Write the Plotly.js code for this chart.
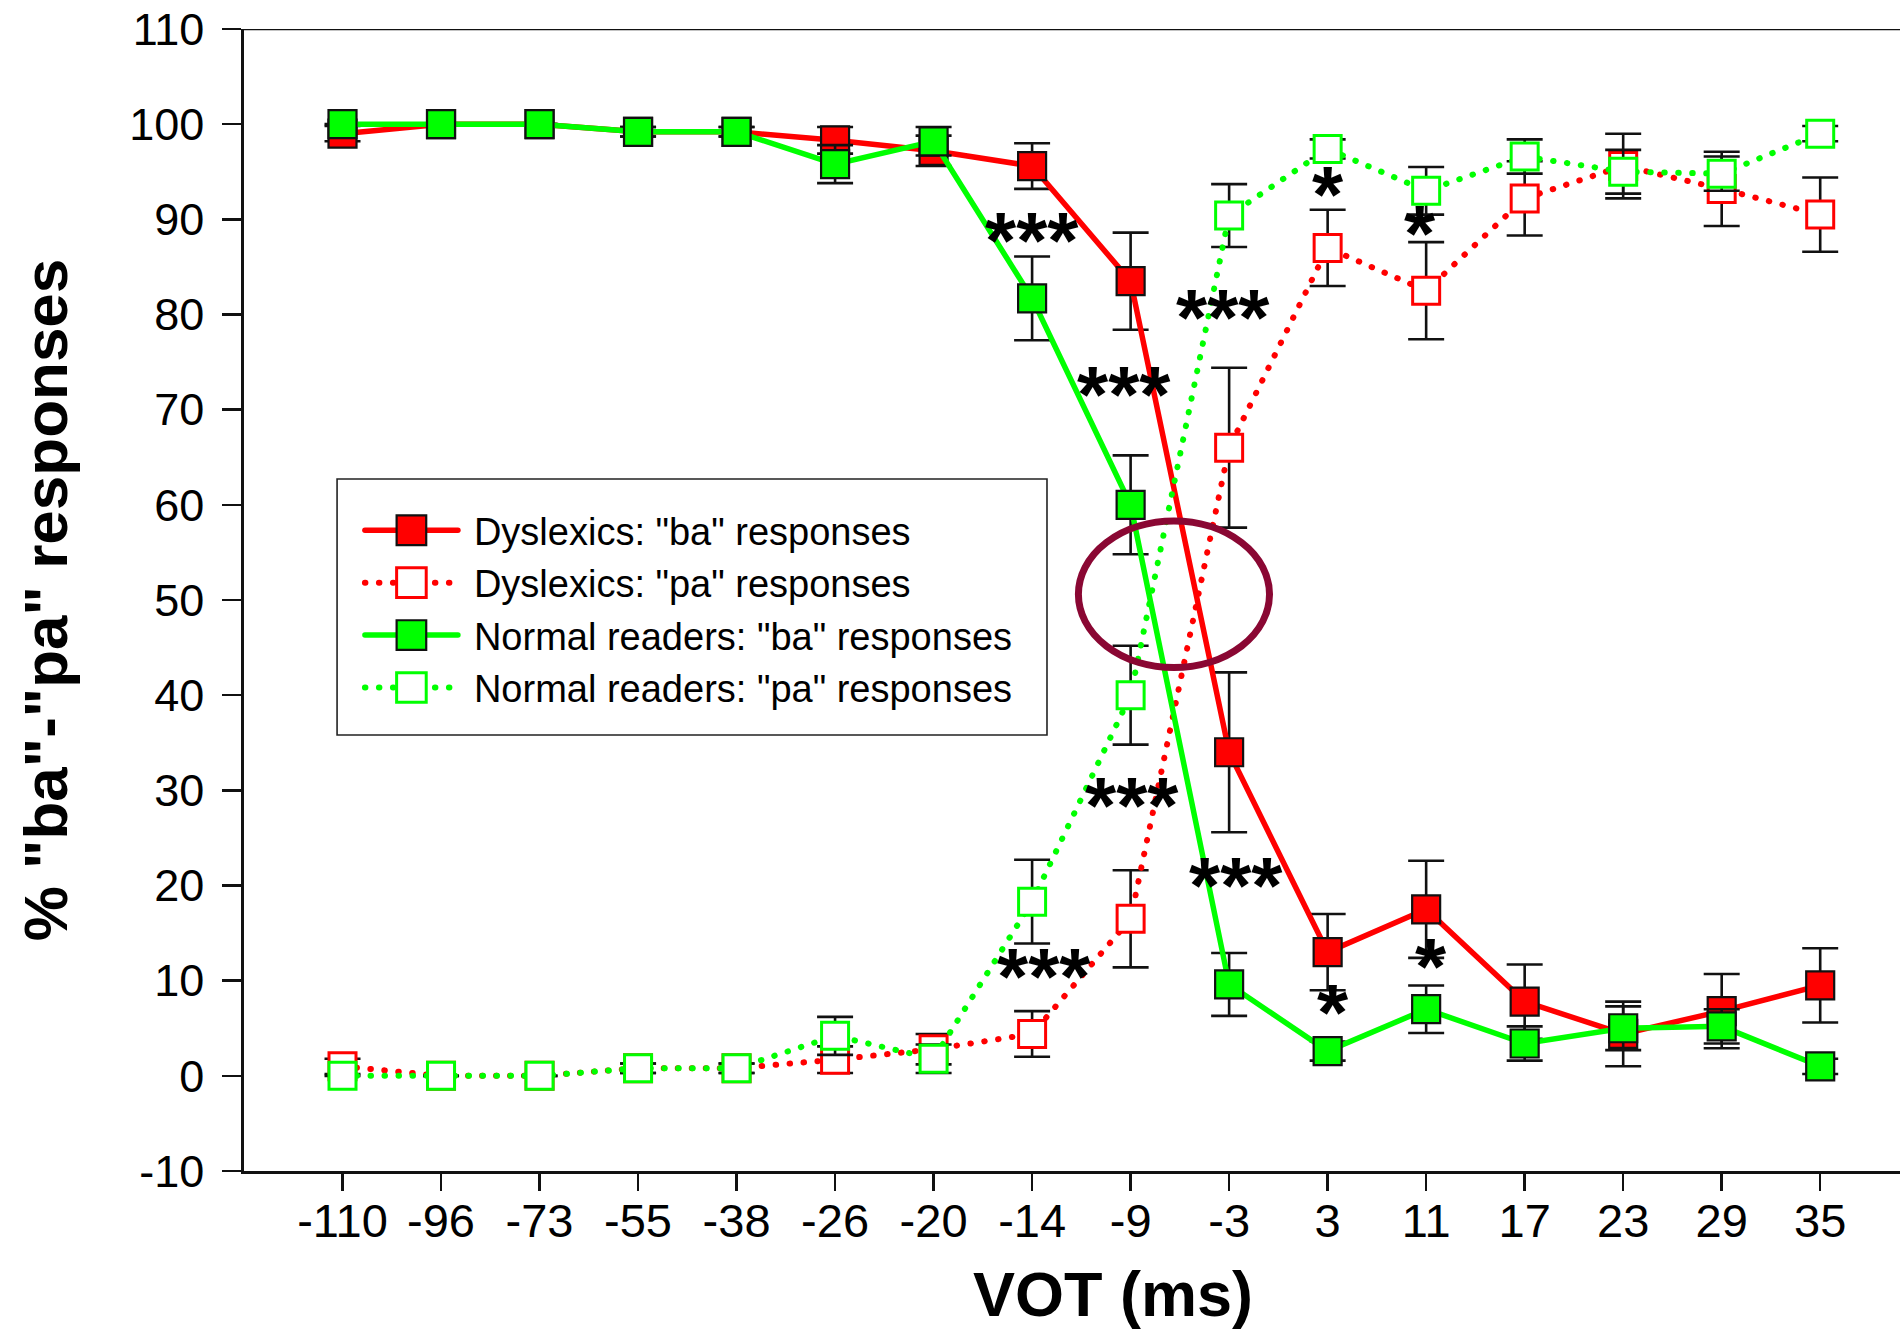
<!DOCTYPE html>
<html>
<head>
<meta charset="utf-8">
<script src="https://cdn.plot.ly/plotly-3.0.1.min.js"></script>
<style>
  html, body { margin: 0; padding: 0; background: #ffffff; overflow: hidden; }
  #chart { width: 1900px; height: 1330px; }
</style>
</head>
<body>
<div id="chart"></div>
<script>
// Voice onset time continuum (ms), one category per stimulus
const vot = ['-110', '-96', '-73', '-55', '-38', '-26', '-20', '-14', '-9', '-3', '3', '11', '17', '23', '29', '35'];

// Dyslexic group: % "ba" and % "pa" identifications, with standard errors
const dysBa  = [99, 100, 100, 99.2, 99.2, 98.3, 97.2, 95.6, 83.5, 34, 13, 17.5, 7.8, 4.4, 6.8, 9.5];
const dysPa  = [1, 0, 0, 0.8, 0.8, 1.7, 2.8, 4.4, 16.5, 66, 87, 82.5, 92.2, 95.6, 93.2, 90.5];
const dysErr = [0.8, 0, 0, 0.5, 0.5, 1.4, 1.6, 2.4, 5.1, 8.4, 4.0, 5.1, 3.9, 3.4, 3.9, 3.9];

// Normal readers: % "ba" and % "pa" identifications, with standard errors
const norBa  = [100, 100, 100, 99.2, 99.2, 95.8, 98.2, 81.7, 60, 9.6, 2.6, 7, 3.4, 5, 5.2, 1];
const norPa  = [0, 0, 0, 0.8, 0.8, 4.2, 1.8, 18.3, 40, 90.4, 97.4, 93, 96.6, 95, 94.8, 99];
const norErr = [0, 0, 0, 0.5, 0.5, 2.0, 1.5, 4.4, 5.2, 3.3, 1.0, 2.5, 1.8, 2.3, 1.8, 0.8];

// Percentage axis ticks
const pctTicks  = [-10, 0, 10, 20, 30, 40, 50, 60, 70, 80, 90, 100, 110];
const pctLabels = ['-10', '0', '10', '20', '30', '40', '50', '60', '70', '80', '90', '100', '110'];

// Significance markers between groups
const starText  = ['***', '***', '***', '***', '***', '***', '*', '*', '*', '*'];
const starVot   = ['-14', '-9', '-3', '-9', '-3', '-14', '3', '11', '11', '3'];
const starLevel = [88.8, 72.6, 80.7, 29.5, 21.1, 11.5, 93.7, 89.6, 12.5, 7.7];
const starNudge = [0, -7, -6, 1, 7, 12, 0, -6, 5, 5];

// Highlighted crossover region (category index / percent)
const crossVot = [7.47, 9.41];
const crossPct = [42.9, 58.3];

const RED = '#ff0000';
const GREEN = '#00ff00';
const INK = '#111111';
const FONT = 'Liberation Sans, Arial, Helvetica, sans-serif';

function errs(arr) {
  return { type: 'data', array: arr, visible: true, color: INK, thickness: 2.6, width: 18 };
}

function filled(name, y, color, err) {
  return {
    type: 'scatter', mode: 'lines+markers', name: name, x: vot, y: y,
    line: { color: color, width: 5.5 },
    marker: { symbol: 'square', size: 28, color: color, line: { color: INK, width: 2.2 } },
    error_y: errs(err), cliponaxis: false
  };
}

function open(name, y, color, err) {
  return {
    type: 'scatter', mode: 'lines+markers', name: name, x: vot, y: y,
    line: { color: color, width: 6, dash: '0.5px,13.5px' },
    marker: { symbol: 'square', size: 27, color: '#ffffff', line: { color: color, width: 3 } },
    error_y: errs(err), cliponaxis: false
  };
}

const traces = [
  filled('Dyslexics: "ba" responses', dysBa, RED, dysErr),
  open('Dyslexics: "pa" responses', dysPa, RED, dysErr),
  filled('Normal readers: "ba" responses', norBa, GREEN, norErr),
  open('Normal readers: "pa" responses', norPa, GREEN, norErr)
];

// category axis: annotations are placed by category index
const annotations = starText.map((t, i) => ({
  x: vot.indexOf(starVot[i]), y: starLevel[i], xref: 'x', yref: 'y',
  text: t, showarrow: false, xshift: starNudge[i], yshift: -10,
  font: { family: FONT, size: 80, color: '#000000', weight: 'bold' }
}));

annotations.push({
  x: 0.5248, y: -0.108, xref: 'paper', yref: 'paper',
  text: 'VOT (ms)', showarrow: false, xanchor: 'center', yanchor: 'middle',
  font: { family: FONT, size: 63, color: '#000000', weight: 'bold' }
});

const layout = {
  width: 1900, height: 1330,
  margin: { l: 244, r: 0, t: 29, b: 159 },
  paper_bgcolor: '#ffffff', plot_bgcolor: '#ffffff',
  font: { family: FONT, color: '#000000' },
  showlegend: true,
  legend: {
    x: 0.070, y: 0.5884, xanchor: 'left', yanchor: 'top',
    bgcolor: 'rgba(0,0,0,0)', borderwidth: 0,
    font: { family: FONT, size: 38, color: '#000000' },
    itemwidth: 93, tracegroupgap: 0
  },
  xaxis: {
    type: 'category', categoryorder: 'array', categoryarray: vot,
    range: [-1, 15.81], showgrid: false, zeroline: false,
    showline: true, linecolor: INK, linewidth: 2.6,
    ticks: 'outside', ticklen: 17, tickwidth: 2.6, tickcolor: INK,
    tickfont: { family: FONT, size: 47, color: '#000000' },
    ticklabelstandoff: -10
  },
  yaxis: {
    range: [-10, 110], tickmode: 'array', tickvals: pctTicks, ticktext: pctLabels,
    showgrid: false, zeroline: false,
    showline: true, linecolor: INK, linewidth: 2.6,
    ticks: 'outside', ticklen: 19, tickwidth: 2.6, tickcolor: INK,
    tickfont: { family: FONT, size: 45, color: '#000000' },
    ticklabelstandoff: 9,
    title: { text: '% "ba"-"pa" responses', standoff: 42,
             font: { family: FONT, size: 62, color: '#000000', weight: 'bold' } }
  },
  shapes: [
    { type: 'line', xref: 'paper', yref: 'y', x0: 0, x1: 1, y0: 110, y1: 110,
      line: { color: INK, width: 2.6 } },
    { type: 'rect', xref: 'paper', yref: 'paper', layer: 'above',
      x0: 0.0562, x1: 0.4849, y0: 0.3818, y1: 0.606,
      fillcolor: '#ffffff', line: { color: '#222222', width: 1.6 } },
    { type: 'circle', xref: 'x', yref: 'y', layer: 'above',
      x0: crossVot[0], x1: crossVot[1], y0: crossPct[0], y1: crossPct[1],
      line: { color: '#8a0733', width: 7 } }
  ],
  annotations: annotations
};

Plotly.newPlot('chart', traces, layout, { displayModeBar: false, staticPlot: true }).then(() => {
  // round dots for the dotted series
  document.querySelectorAll('path.js-line').forEach(p => {
    p.style.strokeLinecap = 'round';
  });
  // legend: let labels sit a little further from the swatches without clipping
  document.querySelectorAll('.legend [clip-path]').forEach(el => el.removeAttribute('clip-path'));
  document.querySelectorAll('.legend .legendpoints path.scatterpts').forEach(p => {
    const tr = p.getAttribute('transform') || '';
    p.setAttribute('transform', tr + ' scale(1.85)');
    const sw = parseFloat(p.style.strokeWidth || '2');
    p.style.strokeWidth = (sw / 1.85).toFixed(2) + 'px';
  });
  document.querySelectorAll('.legend text.legendtext').forEach(t => {
    const x = parseFloat(t.getAttribute('x') || '0');
    t.setAttribute('x', x + 11);
  });
});
</script>
</body>
</html>
